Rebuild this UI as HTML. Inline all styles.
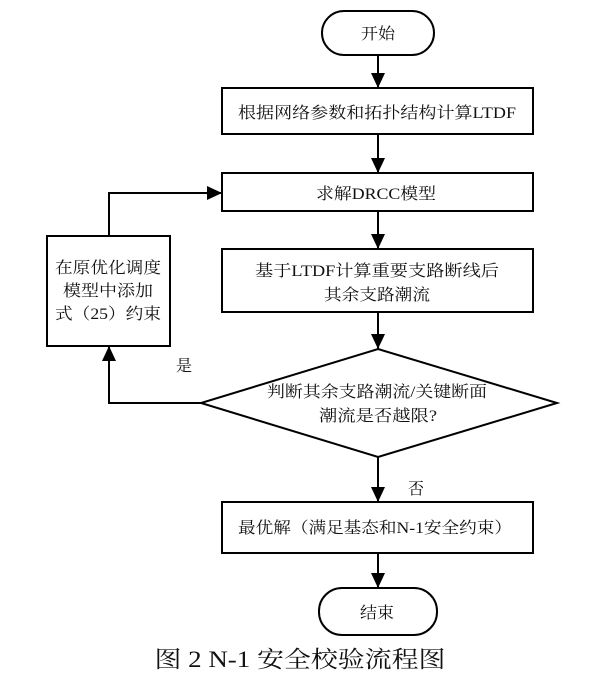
<!DOCTYPE html>
<html><head><meta charset="utf-8"><style>
html,body{margin:0;padding:0;background:#fff;}
body{width:603px;height:680px;overflow:hidden;}
text{font-family:"Liberation Serif","Noto Serif CJK SC",serif;fill:#111;}
</style></head><body>
<svg width="603" height="680" viewBox="0 0 603 680" xmlns="http://www.w3.org/2000/svg">
<defs><marker id="b" markerWidth="16" markerHeight="14" refX="15" refY="7" orient="auto" markerUnits="userSpaceOnUse"><path d="M0,0 L15,7 L0,14z" fill="#000"/></marker></defs>
<g stroke="#000" stroke-width="2" fill="none">
<rect x="322" y="11" width="112" height="44" rx="22"/>
<rect x="222" y="88" width="311" height="46"/>
<rect x="222" y="173" width="311" height="38"/>
<rect x="222" y="249" width="311" height="63"/>
<rect x="47" y="236" width="123" height="110"/>
<polygon points="378,349 557,403 378,457 201,403"/>
<rect x="222" y="502" width="311" height="51"/>
<rect x="319" y="588" width="118" height="47" rx="23"/>
<line x1="378" y1="55" x2="378" y2="88" marker-end="url(#b)"/>
<line x1="378" y1="134" x2="378" y2="173" marker-end="url(#b)"/>
<line x1="378" y1="211" x2="378" y2="249" marker-end="url(#b)"/>
<line x1="378" y1="312" x2="378" y2="349" marker-end="url(#b)"/>
<line x1="378" y1="457" x2="378" y2="502" marker-end="url(#b)"/>
<line x1="378" y1="553" x2="378" y2="588" marker-end="url(#b)"/>
<polyline points="201,403 109,403 109,346" marker-end="url(#b)"/>
<polyline points="109,236 109,193 222,193" marker-end="url(#b)"/>
</g>
<g font-size="16" text-anchor="middle" lengthAdjust="spacingAndGlyphs">
<text x="378" y="39" textLength="34" lengthAdjust="spacingAndGlyphs">开始</text>
<text x="377" y="118" textLength="278" lengthAdjust="spacingAndGlyphs">根据网络参数和拓扑结构计算LTDF</text>
<text x="376" y="199" textLength="120" lengthAdjust="spacingAndGlyphs">求解DRCC模型</text>
<text x="377" y="276" textLength="244" lengthAdjust="spacingAndGlyphs">基于LTDF计算重要支路断线后</text>
<text x="377" y="300" textLength="106" lengthAdjust="spacingAndGlyphs">其余支路潮流</text>
<text x="108" y="273" textLength="106" lengthAdjust="spacingAndGlyphs">在原优化调度</text>
<text x="108" y="296" textLength="90" lengthAdjust="spacingAndGlyphs">模型中添加</text>
<text x="108" y="319" textLength="106" lengthAdjust="spacingAndGlyphs">式（25）约束</text>
<text x="377" y="397" textLength="220" lengthAdjust="spacingAndGlyphs">判断其余支路潮流/关键断面</text>
<text x="378" y="421" textLength="118" lengthAdjust="spacingAndGlyphs">潮流是否越限?</text>
<text x="184" y="371">是</text>
<text x="416" y="494">否</text>
<text x="375" y="533" textLength="274" lengthAdjust="spacingAndGlyphs">最优解（满足基态和N-1安全约束）</text>
<text x="377" y="618" textLength="34" lengthAdjust="spacingAndGlyphs">结束</text>
<text x="300" y="667" font-size="23" textLength="291" lengthAdjust="spacingAndGlyphs">图 2 N-1 安全校验流程图</text>
</g>
</svg>
</body></html>
